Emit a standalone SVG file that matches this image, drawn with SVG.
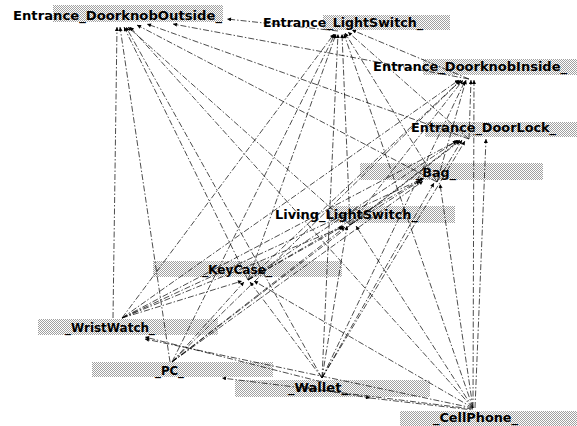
<svg xmlns="http://www.w3.org/2000/svg" width="577" height="426" viewBox="0 0 577 426">
<style>
.band{fill:url(#dither)}
.lbl{font-family:"DejaVu Sans","Liberation Sans",sans-serif;font-size:13px;font-weight:bold;fill:#000}
.e{stroke:#000;stroke-width:0.7;fill:none;stroke-dasharray:6 2 1.5 2;marker-end:url(#ah)}
</style>
<defs>
<pattern id="dither" width="2" height="2" patternUnits="userSpaceOnUse">
<rect width="2" height="2" fill="#fff"/>
<rect width="1" height="1" fill="#a0a0a0"/>
<rect x="1" y="1" width="1" height="1" fill="#a0a0a0"/>
</pattern>
<marker id="ah" viewBox="0 0 10 10" refX="10" refY="5" markerWidth="5" markerHeight="4" markerUnits="userSpaceOnUse" orient="auto">
<path d="M0,0 L10,5 L0,10 z" fill="#000"/>
</marker>
</defs>
<rect width="577" height="426" fill="#fff"/>
<g id="bands">
<g id="n_doorknob_outside"><rect class="band" x="53" y="5" width="170" height="17"/><text class="lbl" x="13" y="20" textLength="209" lengthAdjust="spacingAndGlyphs">Entrance_DoorknobOutside_</text></g>
<g id="n_entrance_lightswitch"><rect class="band" x="323" y="15" width="127" height="15"/><text class="lbl" x="263" y="27" textLength="160" lengthAdjust="spacingAndGlyphs">Entrance_LightSwitch_</text></g>
<g id="n_doorknob_inside"><rect class="band" x="423" y="59" width="154" height="16"/><text class="lbl" x="373" y="71" textLength="194" lengthAdjust="spacingAndGlyphs">Entrance_DoorknobInside_</text></g>
<g id="n_doorlock"><rect class="band" x="425" y="122" width="152" height="15"/><text class="lbl" x="411" y="132" textLength="145" lengthAdjust="spacingAndGlyphs">Entrance_DoorLock_</text></g>
<g id="n_bag"><rect class="band" x="360" y="163" width="183" height="17"/><text class="lbl" x="416" y="177" textLength="40" lengthAdjust="spacingAndGlyphs">_Bag_</text></g>
<g id="n_living_lightswitch"><rect class="band" x="330" y="206" width="125" height="17"/><text class="lbl" x="275" y="219" textLength="143" lengthAdjust="spacingAndGlyphs">Living_LightSwitch_</text></g>
<g id="n_keycase"><rect class="band" x="153" y="261" width="189" height="16"/><text class="lbl" x="202" y="274" textLength="70" lengthAdjust="spacingAndGlyphs">_KeyCase_</text></g>
<g id="n_wristwatch"><rect class="band" x="38" y="319" width="180" height="16"/><text class="lbl" x="65" y="332" textLength="90" lengthAdjust="spacingAndGlyphs">_WristWatch_</text></g>
<g id="n_pc"><rect class="band" x="92" y="362" width="181" height="15"/><text class="lbl" x="155" y="375" textLength="29" lengthAdjust="spacingAndGlyphs">_PC_</text></g>
<g id="n_wallet"><rect class="band" x="235" y="380" width="195" height="17"/><text class="lbl" x="288" y="392" textLength="60" lengthAdjust="spacingAndGlyphs">_Wallet_</text></g>
<g id="n_cellphone"><rect class="band" x="400" y="411" width="177" height="15"/><text class="lbl" x="433" y="422" textLength="85" lengthAdjust="spacingAndGlyphs">_CellPhone_</text></g>
</g>
<g id="connectors">
<line class="e" x1="338" y1="31" x2="227" y2="19"/>
<line class="e" x1="469" y1="79" x2="173" y2="24"/>
<line class="e" x1="469" y1="139" x2="147" y2="24"/>
<line class="e" x1="437" y1="182" x2="137" y2="25"/>
<line class="e" x1="350" y1="225" x2="128" y2="27"/>
<line class="e" x1="248" y1="280" x2="124" y2="27"/>
<line class="e" x1="113" y1="318" x2="117" y2="27"/>
<line class="e" x1="170" y1="362" x2="120" y2="27"/>
<line class="e" x1="322" y1="378" x2="126" y2="27"/>
<line class="e" x1="473" y1="408" x2="130" y2="27"/>
<line class="e" x1="469" y1="79" x2="352" y2="30"/>
<line class="e" x1="469" y1="139" x2="348" y2="32"/>
<line class="e" x1="437" y1="182" x2="345" y2="33"/>
<line class="e" x1="350" y1="225" x2="342" y2="34"/>
<line class="e" x1="248" y1="280" x2="336" y2="34"/>
<line class="e" x1="122" y1="318" x2="334" y2="34"/>
<line class="e" x1="172" y1="362" x2="335" y2="34"/>
<line class="e" x1="322" y1="378" x2="338" y2="34"/>
<line class="e" x1="473" y1="408" x2="344" y2="34"/>
<line class="e" x1="469" y1="139" x2="471" y2="80"/>
<line class="e" x1="437" y1="182" x2="466" y2="80"/>
<line class="e" x1="350" y1="225" x2="463" y2="80"/>
<line class="e" x1="248" y1="280" x2="461" y2="80"/>
<line class="e" x1="122" y1="318" x2="459" y2="80"/>
<line class="e" x1="172" y1="362" x2="460" y2="81"/>
<line class="e" x1="322" y1="378" x2="465" y2="81"/>
<line class="e" x1="473" y1="408" x2="474" y2="80"/>
<line class="e" x1="437" y1="182" x2="462" y2="140"/>
<line class="e" x1="350" y1="225" x2="460" y2="140"/>
<line class="e" x1="248" y1="280" x2="458" y2="140"/>
<line class="e" x1="122" y1="318" x2="457" y2="141"/>
<line class="e" x1="172" y1="362" x2="460" y2="141"/>
<line class="e" x1="322" y1="378" x2="465" y2="141"/>
<line class="e" x1="475" y1="408" x2="486" y2="139"/>
<line class="e" x1="350" y1="225" x2="420" y2="181"/>
<line class="e" x1="248" y1="280" x2="422" y2="179"/>
<line class="e" x1="122" y1="318" x2="424" y2="178"/>
<line class="e" x1="172" y1="362" x2="423" y2="181"/>
<line class="e" x1="322" y1="378" x2="434" y2="183"/>
<line class="e" x1="473" y1="408" x2="440" y2="184"/>
<line class="e" x1="248" y1="280" x2="344" y2="226"/>
<line class="e" x1="122" y1="318" x2="343" y2="227"/>
<line class="e" x1="172" y1="362" x2="345" y2="227"/>
<line class="e" x1="322" y1="378" x2="347" y2="226"/>
<line class="e" x1="473" y1="408" x2="356" y2="226"/>
<line class="e" x1="122" y1="318" x2="242" y2="281"/>
<line class="e" x1="172" y1="362" x2="244" y2="282"/>
<line class="e" x1="322" y1="378" x2="250" y2="282"/>
<line class="e" x1="473" y1="408" x2="254" y2="281"/>
<line class="e" x1="322" y1="382" x2="145" y2="337"/>
<line class="e" x1="473" y1="408" x2="145" y2="339"/>
<line class="e" x1="473" y1="409" x2="222" y2="378"/>
<line class="e" x1="300" y1="386" x2="370" y2="398"/>
<line class="e" x1="370" y1="398" x2="473" y2="410" style="marker-end:none"/>
</g>
</svg>
